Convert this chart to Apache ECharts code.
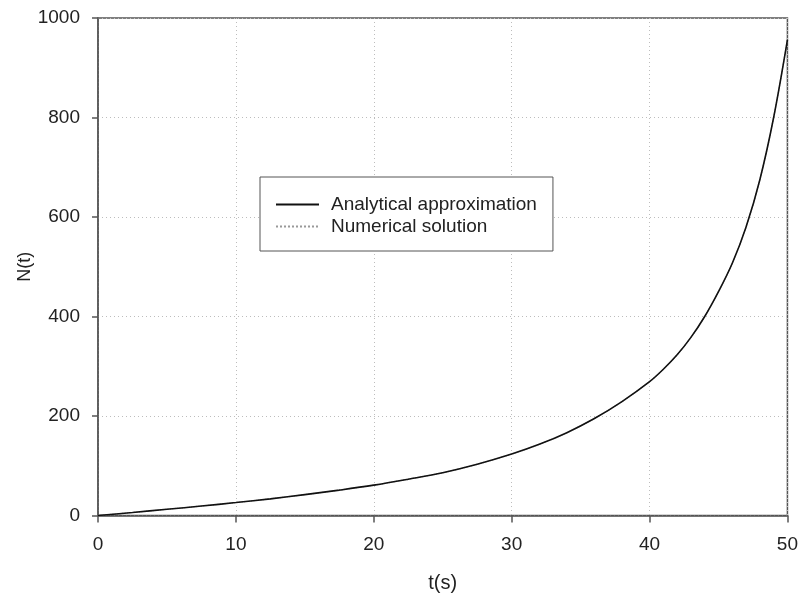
<!DOCTYPE html>
<html>
<head>
<meta charset="utf-8">
<script src="https://cdn.jsdelivr.net/npm/echarts@6/dist/echarts.min.js"></script>
<style>
html,body{margin:0;padding:0;background:#fff;}
#chart{width:801px;height:599px;}
</style>
</head>
<body>
<div id="chart"></div>
<script>
// Data
const tValues     = [0, 2.5, 5, 7.5, 10, 12.5, 15, 17.5, 20, 22.5, 25, 27.5, 30, 32, 34, 36, 38, 40, 41, 42, 43, 44, 45, 46, 47, 48, 49, 50];
const analytical  = [0, 6, 12.5, 19, 26, 33.5, 42, 51, 61, 73, 86, 103, 123.5, 143, 166.5, 195, 229, 269, 294, 323, 358, 400, 450, 507, 580, 675, 800, 956];
const numerical   = [0, 6, 12.5, 19, 26, 33.5, 42, 51, 61, 73, 86, 103, 123.5, 143, 166.5, 195, 229, 269, 294, 323, 358, 400, 450, 507, 580, 675, 800, 956];
const xTicks = [0, 10, 20, 30, 40, 50];
const yTicks = [0, 200, 400, 600, 800, 1000];
const seriesNames = ['Analytical approximation', 'Numerical solution'];

const FONT = '"Liberation Sans", Arial, sans-serif';
const chart = echarts.init(document.getElementById('chart'), null, {renderer: 'canvas'});

const toPairs = (xs, ys) => xs.map((x, i) => [x, ys[i]]);

chart.setOption({
  animation: false,
  backgroundColor: '#fff',
  textStyle: {fontFamily: FONT},
  grid: {
    left: 98, right: 13, top: 18, bottom: 83.5,
    show: true, borderColor: '#555', borderWidth: 1.5, backgroundColor: 'transparent'
  },
  legend: {
    orient: 'vertical',
    left: 260, top: 177,
    data: seriesNames,
    itemWidth: 43, itemHeight: 14, itemGap: 3,
    padding: [18, 16, 15, 15],
    borderColor: '#555', borderWidth: 1,
    backgroundColor: '#fff',
    itemStyle: {opacity: 0},
    textStyle: {fontFamily: FONT, fontSize: 19, color: '#222', lineHeight: 19, padding: [0, 0, 0, 7]}
  },
  xAxis: {
    type: 'value', min: xTicks[0], max: xTicks[xTicks.length - 1], interval: 10,
    name: 't(s)', nameLocation: 'middle', nameGap: 58,
    nameTextStyle: {fontFamily: FONT, fontSize: 20, color: '#222'},
    axisLine: {show: true, lineStyle: {color: '#555', width: 1.5}},
    axisTick: {show: true, length: 7, inside: false, lineStyle: {color: '#555', width: 1.5}},
    axisLabel: {fontFamily: FONT, fontSize: 19, color: '#222', margin: 20, formatter: v => String(v)},
    splitLine: {show: true, lineStyle: {color: '#bdbdbd', type: [1, 3], width: 1}}
  },
  yAxis: {
    type: 'value', min: yTicks[0], max: yTicks[yTicks.length - 1], interval: 200,
    name: 'N(t)', nameLocation: 'middle', nameGap: 64, nameRotate: 90, nameMoveOverlap: false,
    nameTextStyle: {fontFamily: FONT, fontSize: 18, color: '#222'},
    axisLine: {show: true, lineStyle: {color: '#555', width: 1.5}},
    axisTick: {show: true, length: 6, inside: false, lineStyle: {color: '#555', width: 1.5}},
    axisLabel: {fontFamily: FONT, fontSize: 19, color: '#222', margin: 18, formatter: v => String(v)},
    splitLine: {show: true, lineStyle: {color: '#bdbdbd', type: [1, 3], width: 1}}
  },
  series: [
    {
      name: seriesNames[0], type: 'line', data: toPairs(tValues, analytical),
      showSymbol: false, symbol: 'none', smooth: 0.35, z: 3,
      lineStyle: {color: '#111', width: 1.6, type: 'solid'},
      itemStyle: {color: '#111'}
    },
    {
      name: seriesNames[1], type: 'line', data: toPairs(tValues, numerical),
      showSymbol: false, symbol: 'none', smooth: 0.35, z: 2,
      lineStyle: {color: '#999', width: 1.2, type: 'dotted'},
      itemStyle: {color: '#999'}
    }
  ]
});
</script>
</body>
</html>
